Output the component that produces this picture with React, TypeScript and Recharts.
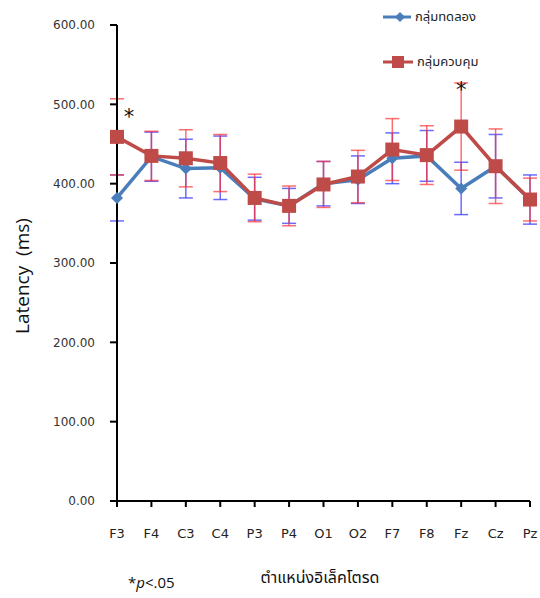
import { LineChart, Line, XAxis, YAxis, ErrorBar, ReferenceDot } from 'recharts';

const electrodes = ['F3', 'F4', 'C3', 'C4', 'P3', 'P4', 'O1', 'O2', 'F7', 'F8', 'Fz', 'Cz', 'Pz'];
const experimental = [382, 434, 419, 420, 381, 372, 400, 405, 432, 435, 394, 422, 380];
const experimentalSd = [29, 31, 37, 40, 27, 22, 28, 30, 32, 32, 33, 40, 31];
const control = [459, 435, 432, 426, 382, 372, 399, 409, 443, 436, 472, 422, 380];
const controlSd = [48, 31, 36, 36, 30, 25, 29, 33, 39, 37, 55, 47, 27];
const yTicks = [0, 100, 200, 300, 400, 500, 600];
// where the significance stars sit, in ms
const significant = [
  { electrode: 'F3', y: 484 },
  { electrode: 'Fz', y: 519 },
];

const data = electrodes.map((electrode, i) => ({
  electrode,
  experimental: experimental[i],
  experimentalSd: experimentalSd[i],
  control: control[i],
  controlSd: controlSd[i],
}));

const BLUE = '#4a7ebb';
const RED = '#be4b48';
const thaiFont = '"Noto Sans Thai", Tahoma, "DejaVu Sans", sans-serif';
const tickFont = '"DejaVu Sans", Tahoma, sans-serif';

const Diamond = (props: any) => {
  const { cx, cy } = props;
  if (cx == null || cy == null) return null;
  return <polygon points={`${cx},${cy - 6} ${cx + 6},${cy} ${cx},${cy + 6} ${cx - 6},${cy}`} fill={BLUE} />;
};

const Square = (props: any) => {
  const { cx, cy } = props;
  if (cx == null || cy == null) return null;
  return <rect x={cx - 7} y={cy - 7} width={14} height={14} fill={RED} />;
};

const App = () => {
  return (
    <div style={{ position: 'absolute', left: 0, top: 0, width: 540, height: 598, background: '#fff' }}>
      <LineChart
        width={540}
        height={598}
        data={data}
        margin={{ top: 25, right: 10, left: 37, bottom: 67 }}
      >
        <XAxis
          dataKey="electrode"
          axisLine={{ stroke: '#000', strokeWidth: 2 }}
          tickLine={{ stroke: '#000', strokeWidth: 2 }}
          tickSize={6}
          tickMargin={22}
          height={30}
          interval={0}
          tick={{ fill: '#222', fontSize: 13, fontFamily: tickFont }}
        />
        <YAxis
          domain={[0, 600]}
          ticks={yTicks}
          width={80}
          axisLine={{ stroke: '#000', strokeWidth: 2 }}
          tickLine={{ stroke: '#000', strokeWidth: 2 }}
          tickSize={7}
          tickMargin={15}
          tickFormatter={(v: number) => v.toFixed(2)}
          tick={{ fill: '#333', fontSize: 12, fontFamily: tickFont }}
        />
        <Line
          type="linear"
          dataKey="experimental"
          stroke={BLUE}
          strokeWidth={3.5}
          dot={<Diamond />}
          activeDot={false}
          isAnimationActive={false}
        >
          <ErrorBar dataKey="experimentalSd" stroke="#3a3aff" strokeOpacity={0.75} strokeWidth={1.5} width={7} />
        </Line>
        <Line
          type="linear"
          dataKey="control"
          stroke={RED}
          strokeWidth={3.5}
          dot={<Square />}
          activeDot={false}
          isAnimationActive={false}
        >
          <ErrorBar dataKey="controlSd" stroke="#ff3030" strokeOpacity={0.7} strokeWidth={1.5} width={7} />
        </Line>
        {significant.map((s) => (
          <ReferenceDot
            key={s.electrode}
            x={s.electrode}
            y={s.y}
            r={0}
            fill="none"
            stroke="none"
            label={{
              value: '*',
              position: 'center',
              dx: s.electrode === electrodes[0] ? 12 : 0,
              fontSize: 21,
              fill: '#111',
              fontFamily: tickFont,
            }}
          />
        ))}
      </LineChart>

      {/* legend */}
      <div style={{ position: 'absolute', left: 383, top: 7, display: 'flex', alignItems: 'center', fontFamily: thaiFont, fontSize: 13, color: '#222' }}>
        <svg width={30} height={20}>
          <line x1={0} y1={10} x2={28} y2={10} stroke={BLUE} strokeWidth={3} />
          <polygon points="17,5 22,10 17,15 12,10" fill={BLUE} />
        </svg>
        <span style={{ marginLeft: 2 }}>กลุ่มทดลอง</span>
      </div>
      <div style={{ position: 'absolute', left: 383, top: 52, display: 'flex', alignItems: 'center', fontFamily: thaiFont, fontSize: 13, color: '#222' }}>
        <svg width={32} height={20}>
          <line x1={0} y1={10} x2={30} y2={10} stroke={RED} strokeWidth={3} />
          <rect x={9} y={4} width={12} height={12} fill={RED} />
        </svg>
        <span style={{ marginLeft: 2 }}>กลุ่มควบคุม</span>
      </div>

      {/* axis titles */}
      <div
        style={{
          position: 'absolute',
          left: 22,
          top: 276,
          transform: 'translate(-50%, -50%) rotate(-90deg)',
          whiteSpace: 'pre',
          fontFamily: '"Open Sans", "DejaVu Sans", sans-serif',
          fontSize: 19,
          color: '#111',
        }}
      >
        {'Latency  (ms)'}
      </div>
      <div
        style={{
          position: 'absolute',
          left: 320,
          top: 578,
          transform: 'translate(-50%, -50%)',
          fontFamily: thaiFont,
          fontSize: 16,
          color: '#111',
          whiteSpace: 'nowrap',
        }}
      >
        ตำแหน่งอิเล็คโตรด
      </div>
      <div
        style={{
          position: 'absolute',
          left: 128,
          top: 572,
          fontFamily: '"Open Sans", "DejaVu Sans", sans-serif',
          fontSize: 15,
          color: '#111',
          whiteSpace: 'nowrap',
        }}
      >
        *<i>p</i>&lt;.05
      </div>
    </div>
  );
};

export default App;
